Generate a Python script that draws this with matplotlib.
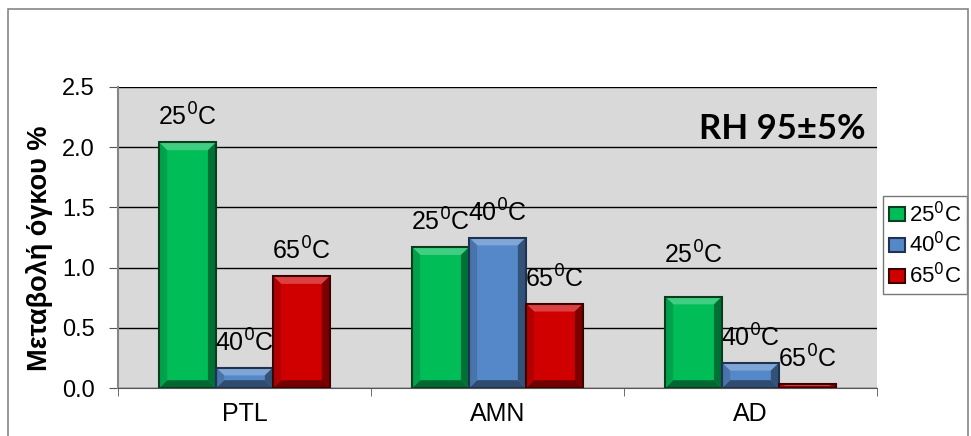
import matplotlib.pyplot as plt
import matplotlib.patches as mpatches
import matplotlib.colors as mcolors
import numpy as np

plt.rcParams['font.family'] = ['Liberation Sans', 'DejaVu Sans']

# data
samples = ["PTL", "AMN", "AD"]
temps = ["25$^0$C", "40$^0$C", "65$^0$C"]
vals_25 = [2.04, 1.17, 0.76]
vals_40 = [0.17, 1.25, 0.21]
vals_65 = [0.93, 0.70, 0.03]

face = ["#00bd58", "#5588c8", "#d00000"]
edge = ["#0a3d1e", "#1f3350", "#3d0000"]
# label offsets (points above bar top), one row per series
lab_off = [[18, 18, 30], [18, 18, 18], [18, 18, 18]]


def shade(c, f):
    r = np.array(mcolors.to_rgb(c))
    if f > 0:
        r = r + (1 - r) * f
    else:
        r = r * (1 + f)
    return tuple(r)


def bevel(ax, b, c):
    # fake 3d bevel like the excel bars
    x0, w_, h = b.get_x(), b.get_width(), b.get_height()
    x1 = x0 + w_
    bx = 0.032
    by = min(0.065, h / 2)
    polys = [
        ([(x0, h), (x1, h), (x1 - bx, h - by), (x0 + bx, h - by)], shade(c, 0.25)),
        ([(x0, 0), (x1, 0), (x1 - bx, by), (x0 + bx, by)], shade(c, -0.45)),
        ([(x0, 0), (x0, h), (x0 + bx, h - by), (x0 + bx, by)], shade(c, -0.15)),
        ([(x1, 0), (x1, h), (x1 - bx, h - by), (x1 - bx, by)], shade(c, -0.4)),
    ]
    for pts, col in polys:
        ax.add_patch(mpatches.Polygon(pts, closed=True, facecolor=col, edgecolor="none", zorder=3.5))


fig = plt.figure(figsize=(9.71, 4.36), dpi=100)
fig.patches.append(mpatches.Rectangle((8 / 971, -0.1), 960 / 971, 1.08, transform=fig.transFigure,
                                      fill=False, edgecolor="#868686", lw=1.2))
ax = fig.add_axes([0.1215, 0.110, 0.7817, 0.6905])
ax.set_facecolor("#d9d9d9")

x = np.arange(len(samples))
w = 0.225
series = [vals_25, vals_40, vals_65]
handles = []
for i, vals in enumerate(series):
    xs = x + (i - 1) * w
    bars = ax.bar(xs, vals, w, color=face[i], edgecolor="none", zorder=3)
    for j, b in enumerate(bars):
        bevel(ax, b, face[i])
        ax.add_patch(mpatches.Rectangle((b.get_x(), 0), w, vals[j], fill=False,
                                        edgecolor=edge[i], lw=1.5, zorder=4))
        ax.annotate(temps[i], (b.get_x() + w / 2, vals[j]), xytext=(0, lab_off[i][j]),
                    textcoords="offset points", ha="center", va="center", fontsize=18, zorder=5)
    handles.append(mpatches.Patch(facecolor=face[i], edgecolor=edge[i], lw=1.5, label=temps[i]))

ax.set_ylim(0, 2.5)
ax.set_xlim(-0.5, 2.5)
ax.set_yticks(np.arange(0, 2.51, 0.5))
ax.set_yticklabels([f"{v:.1f}" for v in np.arange(0, 2.51, 0.5)], fontsize=17)
ax.grid(axis="y", color="black", lw=1, zorder=1)
ax.set_xticks(x)
ax.set_xticklabels(samples, fontsize=18)
ax.tick_params(axis="x", which="major", length=0, pad=10)
ax.set_xticks([-0.5, 0.5, 1.5, 2.5], minor=True)
ax.tick_params(axis="x", which="minor", length=6, color="#555555")
ax.tick_params(axis="y", length=6.5, color="#555555", pad=10)
for s in ["top", "right"]:
    ax.spines[s].set_visible(False)
ax.spines["left"].set_color("#868686")
ax.spines["left"].set_linewidth(1.5)
ax.spines["bottom"].set_color("#555555")
ax.set_ylabel("Μεταβολή όγκου %", fontsize=19.5, fontweight="bold")
ax.yaxis.set_label_coords(-0.086, 0.465)

ax.text(0.985, 0.86, "RH 95±5%", transform=ax.transAxes, ha="right", va="center",
        fontsize=25, fontweight="bold", family=["Lato", "DejaVu Sans"])

leg = ax.legend(handles=handles, loc="center left", bbox_to_anchor=(1.008, 0.475), fontsize=16,
                frameon=True, fancybox=False, edgecolor="#555555", handlelength=0.75,
                handleheight=0.6, handletextpad=0.15, borderpad=0.25, labelspacing=0.25,
                borderaxespad=0)
leg.get_frame().set_linewidth(1)

fig.savefig("out.png", dpi=100)
